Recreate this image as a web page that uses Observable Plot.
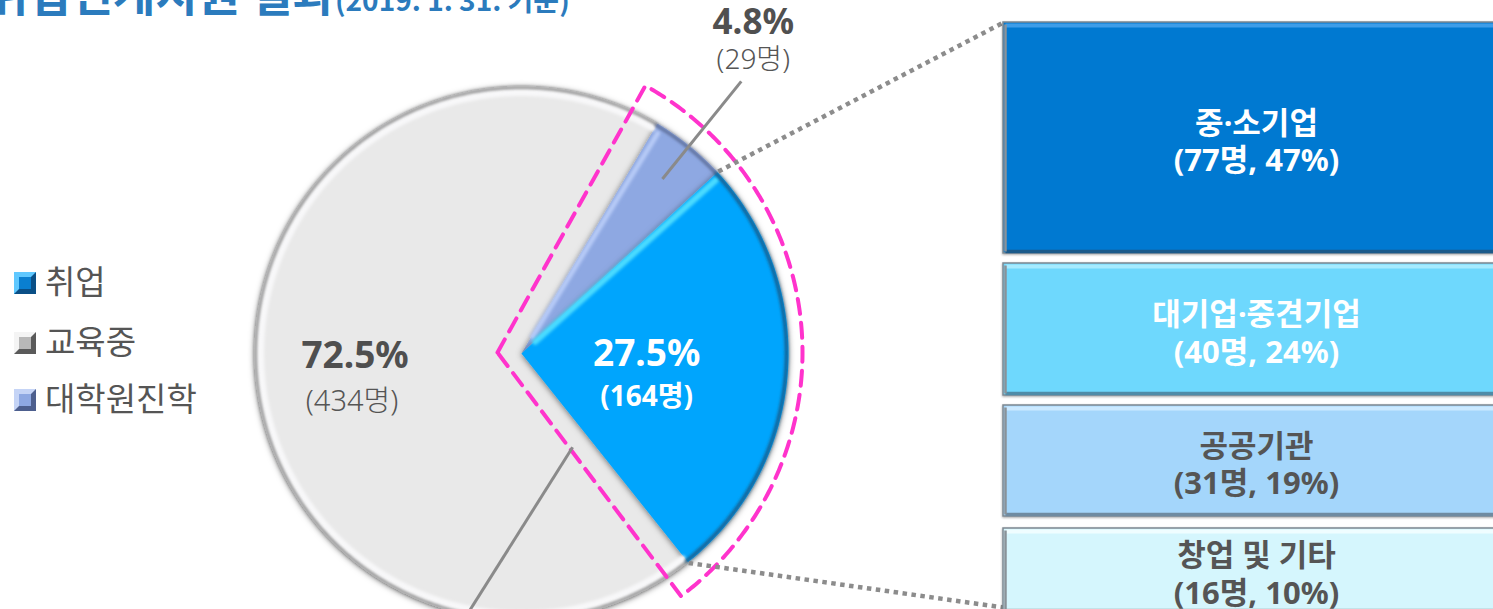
<!DOCTYPE html>
<html><head><meta charset="utf-8">
<script src="https://cdn.jsdelivr.net/npm/d3@7"></script>
<script src="https://cdn.jsdelivr.net/npm/@observablehq/plot@0.6"></script>
<style>
html,body{margin:0;padding:0;background:#fff;overflow:hidden;width:1493px;height:609px;}
#wrap{position:relative;width:1493px;height:609px;font-family:"Noto Sans","Noto Sans CJK KR",sans-serif;}
#chart{position:absolute;left:0;top:0;}
#title{position:absolute;left:-14px;top:-32px;white-space:nowrap;font-weight:bold;color:#2b7bbd;line-height:1;font-family:"Noto Sans CJK KR",sans-serif;}
#title .t1{font-size:46px;}
#title .t2{font-size:28px;}
#legend{position:absolute;left:14px;top:0;}
.lg{position:absolute;left:0;white-space:nowrap;font-size:33px;color:#555;line-height:1;font-family:"Noto Sans CJK KR",sans-serif;font-weight:400;}
.lg i{position:absolute;left:0;width:12px;height:12px;border-style:solid;border-width:5px;}
.lg span{position:absolute;left:31px;top:-19px;}
</style></head>
<body><div id="wrap">
<div id="chart"></div>
<div id="title"><span class="t1">취업연계지원 결과</span><span class="t2">(2019. 1. 31. 기준)</span></div>
<div id="legend"></div>
</div>
<script>
// ---- data ----
const categories = ["대학원진학", "취업", "교육중"];
const counts = [29, 164, 434];
const pctLabels = ["4.8%", "27.5%", "72.5%"];
const countLabels = ["(29명)", "(164명)", "(434명)"];
const legendOrder = ["취업", "교육중", "대학원진학"];
const subCategories = ["중·소기업", "대기업·중견기업", "공공기관", "창업 및 기타"];
const subCounts = [77, 40, 31, 16];
const subPcts = ["47%", "24%", "19%", "10%"];

// ---- styles / layout ----
const W = 1493, H = 609;
const sliceColors = {"대학원진학": "#8ea8e2", "취업": "#05a5fd", "교육중": "#e9e9e9"};
const legendBevel = {
  "취업": ["#5fc8ff", "#0a4f86", "#0a7fd0"],
  "교육중": ["#f4f4f4", "#5a5a5a", "#b8b8b8"],
  "대학원진학": ["#c5d4f6", "#4d5f8e", "#8ea8e2"]
};
const boxFill = ["#0479d1", "#6ed8fd", "#a4d6fb", "#d5f6fd"];
const boxTop = ["#3d9de9", "#a6ebff", "#cbe9ff", "#effdff"];
const boxBottom = ["#1b5a8a", "#4f8ca8", "#6f8ba1", "#8fa6ab"];
const boxText = ["#ffffff", "#ffffff", "#555555", "#555555"];
const boxRows = [[22, 253], [263, 395], [405, 516], [528, 612]];
const boxX1 = 1003, boxX2 = 1505, boxCX = 1256;
const cx = 521, cy = 353, R = 267;
const startDeg = 30.6;
const font = "Noto Sans, Noto Sans CJK KR";
const softStrokes = ["#f8f8f9", "#707071", "#b7cbf7", "#5b6c96", "#4bdcff", "#165f8f"];

const rad = d => d * Math.PI / 180;
const polar = (a, r, c = {x: cx, y: cy}) => ({x: c.x + r * Math.sin(a), y: c.y - r * Math.cos(a)});
function arcPts(a0, a1, r, c, key) {
  const n = Math.max(2, Math.ceil(Math.abs(a1 - a0) / 0.01));
  return d3.range(n + 1).map(i => ({...polar(a0 + (a1 - a0) * i / n, r, c), key}));
}
function sector(a0, a1, r, c = {x: cx, y: cy}, key) {
  return [{...c, key}, ...arcPts(a0, a1, r, c, key), {...c, key}];
}

const slices = categories.map((c, i) => ({category: c, count: counts[i], pct: pctLabels[i], label: countLabels[i]}));
const pie = d3.pie().sort(null).value(d => d.count)
  .startAngle(rad(startDeg)).endAngle(rad(startDeg) + 2 * Math.PI);
const arcs = pie(slices);
const A = Object.fromEntries(arcs.map(a => [a.data.category, a]));

const marks = [];
// slices
for (const cat of ["교육중", "대학원진학", "취업"]) {
  const a = A[cat];
  marks.push(Plot.line(sector(a.startAngle, a.endAngle, R, undefined, cat), {
    x: "x", y: "y", fill: sliceColors[cat], stroke: "none"
  }));
}
// gray rim bevel
{
  const g = A["교육중"];
  marks.push(Plot.line(arcPts(g.startAngle + 0.01, g.endAngle - 0.01, R - 6), {x: "x", y: "y", stroke: softStrokes[0], strokeWidth: 7}));
  marks.push(Plot.line(arcPts(g.startAngle, g.endAngle, R - 1), {x: "x", y: "y", stroke: softStrokes[1], strokeWidth: 2}));
}
// purple bevel
{
  const p = A["대학원진학"];
  marks.push(Plot.line([polar(p.startAngle + 0.035, 20), polar(p.startAngle + 0.02, R - 8)], {x: "x", y: "y", stroke: softStrokes[2], strokeWidth: 5}));
  marks.push(Plot.line(arcPts(p.startAngle, p.endAngle, R - 2), {x: "x", y: "y", stroke: softStrokes[3], strokeWidth: 3}));
}
// blue bevel
{
  const b = A["취업"];
  marks.push(Plot.line([polar(b.startAngle + 0.03, 18), polar(b.startAngle + 0.018, R - 6)], {x: "x", y: "y", stroke: softStrokes[4], strokeWidth: 6}));
  marks.push(Plot.line(arcPts(b.startAngle, b.endAngle, R - 2), {x: "x", y: "y", stroke: softStrokes[5], strokeWidth: 3.5}));
}
// magenta dashed outline around 취업 + 대학원진학
{
  const oc = {x: cx - 24, y: cy - 1};
  marks.push(Plot.line(sector(rad(29), rad(143), 305, oc, "mag"), {
    x: "x", y: "y", stroke: "#ff33cc", strokeWidth: 4, strokeDasharray: "15,9"
  }));
}
// dotted connectors to the breakdown boxes
{
  const b = A["취업"];
  const p1 = polar(b.startAngle, R + 1), p2 = polar(b.endAngle, R + 1);
  marks.push(Plot.link([
    {x1: p1.x, y1: p1.y, x2: boxX1, y2: boxRows[0][0]},
    {x1: p2.x, y1: p2.y, x2: boxX1, y2: boxRows[3][1] - 5}
  ], {x1: "x1", y1: "y1", x2: "x2", y2: "y2", stroke: "#8c8c8c", strokeWidth: 4.5, strokeDasharray: "4.5,4.5"}));
}
// leader lines and outside label
{
  const p = A["대학원진학"];
  const mid = (p.startAngle + p.endAngle) / 2;
  const i0 = polar(mid, R * 0.84), i1 = polar(mid, R * 1.31);
  const g = A["교육중"];
  const j0 = polar(g.startAngle + rad(10), R * 0.4), j1 = polar(g.startAngle + rad(51), R * 1.03);
  marks.push(Plot.link([{x1: i0.x, y1: i0.y, x2: i1.x, y2: i1.y}, {x1: j0.x, y1: j0.y, x2: j1.x, y2: j1.y}],
    {x1: "x1", y1: "y1", x2: "x2", y2: "y2", stroke: "#8a8a8a", strokeWidth: 3}));
  marks.push(Plot.text([p], {x: i1.x + 12, y: i1.y - 59, text: d => d.data.pct, fontFamily: font, fontWeight: "bold", fontSize: 35, fill: "#505050"}));
  marks.push(Plot.text([p], {x: i1.x + 12, y: i1.y - 21, text: d => d.data.label, fontFamily: font, fontWeight: 300, fontSize: 28, fill: "#555"}));
}
{
  const b = A["취업"], bm = (b.startAngle + b.endAngle) / 2;
  const bc = polar(bm, R * 0.47);
  marks.push(Plot.text([b], {x: bc.x, y: bc.y - 9, text: d => d.data.pct, fontFamily: font, fontWeight: "bold", fontSize: 37, fill: "#fff"}));
  marks.push(Plot.text([b], {x: bc.x, y: bc.y + 34, text: d => d.data.label, fontFamily: font, fontWeight: "bold", fontSize: 28, fill: "#fff"}));
  const g = A["교육중"], gm = (g.startAngle + g.endAngle) / 2;
  const gc = polar(gm, R * 0.625);
  marks.push(Plot.text([g], {x: gc.x, y: gc.y - 9, text: d => d.data.pct, fontFamily: font, fontWeight: "bold", fontSize: 37, fill: "#4f4f4f"}));
  marks.push(Plot.text([g], {x: gc.x - 3, y: gc.y + 37, text: d => d.data.label, fontFamily: font, fontWeight: 300, fontSize: 29, fill: "#555"}));
}
// breakdown boxes
const boxes = subCategories.map((c, i) => ({
  name: c, count: subCounts[i], pct: subPcts[i],
  y1: boxRows[i][0], y2: boxRows[i][1], i
}));
marks.push(Plot.rect(boxes, {x1: boxX1, x2: boxX2, y1: "y1", y2: "y2", fill: d => boxFill[d.i], stroke: "#7d8891", strokeWidth: 1.5}));
marks.push(Plot.link(boxes, {x1: boxX1 + 2, x2: boxX2, y1: d => d.y1 + 3, y2: d => d.y1 + 3, stroke: d => boxTop[d.i], strokeWidth: 4}));
marks.push(Plot.link(boxes, {x1: boxX1 + 2, x2: boxX2, y1: d => d.y2 - 2, y2: d => d.y2 - 2, stroke: d => boxBottom[d.i], strokeWidth: 3.5}));
marks.push(Plot.link(boxes, {x1: boxX1 + 2, x2: boxX1 + 2, y1: d => d.y1 + 2, y2: d => d.y2 - 2, stroke: "#8a9298", strokeWidth: 2.5}));
marks.push(Plot.text(boxes, {
  x: boxCX, y: d => (d.y1 + d.y2) / 2 + 2.5,
  text: d => `${d.name}\n(${d.count}명, ${d.pct})`,
  lineHeight: 1.2, fill: d => boxText[d.i], fontFamily: font, fontWeight: "bold", fontSize: 31
}));

const chart = Plot.plot({
  width: W, height: H, margin: 0,
  x: {domain: [0, W], range: [0, W], axis: null},
  y: {domain: [0, H], range: [0, H], axis: null},
  color: {type: "identity"},
  style: {background: "transparent", overflow: "hidden"},
  marks
});
document.getElementById("chart").appendChild(chart);

// soft 3D effects
const svg = d3.select(chart);
const defs = svg.insert("defs", ":first-child");
const f1 = defs.append("filter").attr("id", "sh").attr("x", "-20%").attr("y", "-20%").attr("width", "140%").attr("height", "140%");
f1.append("feDropShadow").attr("dx", 0).attr("dy", 1).attr("stdDeviation", 3).attr("flood-color", "#000").attr("flood-opacity", 0.55);
const f2 = defs.append("filter").attr("id", "bl").attr("x", "-20%").attr("y", "-20%").attr("width", "140%").attr("height", "140%");
f2.append("feGaussianBlur").attr("stdDeviation", 1.6);
const f3 = defs.append("filter").attr("id", "bx").attr("x", "-5%").attr("y", "-5%").attr("width", "110%").attr("height", "110%");
f3.append("feDropShadow").attr("dx", 0).attr("dy", 1).attr("stdDeviation", 1.2).attr("flood-color", "#000").attr("flood-opacity", 0.35);
Object.values(sliceColors).forEach(c => svg.selectAll(`g[fill="${c}"]`).attr("filter", "url(#sh)"));
softStrokes.forEach(c => svg.selectAll(`g[stroke="${c}"]`).attr("filter", "url(#bl)"));
svg.selectAll(`g[stroke="#7d8891"]`).attr("filter", "url(#bx)");

// legend
const lg = document.getElementById("legend");
const legendY = [283, 343, 400];
legendOrder.forEach((c, i) => {
  const [light, dark, mid] = legendBevel[c];
  const d = document.createElement("div");
  d.className = "lg";
  d.style.top = legendY[i] + "px";
  d.innerHTML = `<i style="top:-11px;background:${mid};border-color:${light} ${dark} ${dark} ${light};"></i><span>${c}</span>`;
  lg.appendChild(d);
});
</script>
</body></html>
